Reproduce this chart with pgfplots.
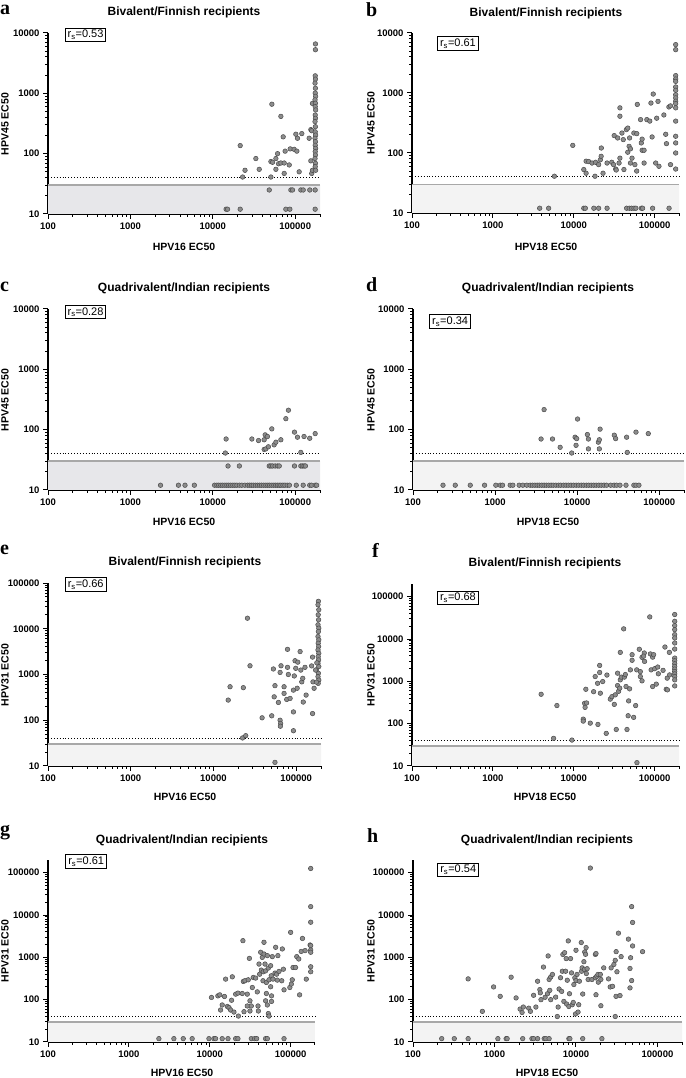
\documentclass[border=0pt]{standalone}
\usepackage{pgfplots}
\pgfplotsset{compat=1.18}
\usepackage{fontspec}
\setmainfont{Liberation Sans}
\newfontfamily\lettfont{Liberation Serif}
\definecolor{mfill}{HTML}{8C8C8C}
\definecolor{mdraw}{HTML}{4A4A4A}
\definecolor{shadeD}{HTML}{E7E7EA}
\definecolor{shadeL}{HTML}{F3F3F3}
\definecolor{limc}{HTML}{A8A8A8}
\tikzset{rsbox/.style={draw, line width=1pt, fill=white, inner xsep=2.5pt, inner ysep=2.2pt, font=\fontsize{11}{13}\selectfont}}
\pgfplotsset{every axis/.append style={
    scale only axis, xmode=log, ymode=log,
    xmin=100, xmax=200000, ymin=10,
    axis lines=left,
    axis line style={-, line width=1.2pt, black},
    tick style={black, line width=1pt},
    tick align=outside,
    major tick length=5pt, minor tick length=3pt,
    xtick={100,1000,10000,100000},
    xticklabels={100,1000,10000,100000},
    minor xtick={200,300,400,500,600,700,800,900,2000,3000,4000,5000,6000,7000,8000,9000,20000,30000,40000,50000,60000,70000,80000,90000,200000},
    ytick={10,100,1000,10000,100000},
    yticklabels={10,100,1000,10000,100000},
    minor ytick={20,30,40,50,60,70,80,90,200,300,400,500,600,700,800,900,2000,3000,4000,5000,6000,7000,8000,9000,20000,30000,40000,50000,60000,70000,80000,90000},
    tick label style={font=\fontsize{9.5}{11}\selectfont\bfseries},
    clip=false,
  }}
\newcommand{\limband}[1]{%
  \addplot[fill=#1, draw=none] coordinates {(100,10) (200000,10) (200000,30) (100,30) (100,10)};
  \addplot[limc, line width=1.5pt] coordinates {(100,30) (200000,30)};
  \addplot[black, dotted, line width=0.9pt] coordinates {(100,40) (200000,40)};
}
\newcommand{\panelletter}[3]{\node[anchor=base west, inner sep=0pt, font=\lettfont\bfseries\fontsize{20}{22}\selectfont] at (#1pt,#2pt) {#3};}
\newcommand{\ylab}[3]{\node[rotate=90, anchor=center, font=\fontsize{10.5}{12}\selectfont\bfseries] at (#1pt,#2pt) {#3};}
\newcommand{\xlab}[3]{\node[anchor=center, font=\fontsize{10.5}{12}\selectfont\bfseries] at (#1pt,#2pt) {#3};}
\newcommand{\ttl}[3]{\node[anchor=center, font=\fontsize{12}{14}\selectfont\bfseries] at (#1pt,#2pt) {#3};}
\begin{document}
\begin{tikzpicture}
\useasboundingbox (0pt,0pt) rectangle (685pt,1078pt);
%% ---------------- a
\begin{axis}[ymax=10000, at={(48pt,864pt)}, width=272pt, height=181pt]
\limband{shadeD}
\addplot[only marks, mark=*, mark size=2.3pt, mark options={fill=mfill, draw=mdraw, line width=0.5pt}] coordinates {
(21500,136) (24600,53) (23000,41) (33300,83) (36600,55) (52100,660) (67000,415) (71500,190)
(50700,74) (53100,72) (61100,100) (58300,83) (62800,68) (58300,55) (67000,70) (73500,70)
(73500,47) (75500,110) (84600,65) (87000,120) (97100,118) (104700,110) (101800,210) (106600,180)
(120300,215) (111700,50) (50700,41) (48400,25) (88600,25) (92800,25) (117000,25) (125000,25)
(150400,25) (174700,25) (77000,12) (86100,12) (14500,12) (15100,12) (21500,12) (174700,12)
(147700,180) (154800,250) (158600,240) (154800,76) (158600,47) (162000,53) (162000,680)
(176000,6580) (176000,5280) (175000,1950) (176000,1720) (174000,1475) (176000,1215) (175000,1010)
(177000,890) (174000,780) (176000,685) (175000,600) (177000,530) (175000,437) (176000,385)
(174000,340) (176000,280) (175000,230) (177000,203) (174000,180) (176000,158) (175000,138)
(177000,122) (175000,108) (176000,95) (174000,83) (176000,69) (175000,61) (177000,53)
};
\node[rsbox] at (rel axis cs:0.138,0.989) {r\textsubscript{s}=0.53};
\end{axis}
%% ---------------- b
\begin{axis}[ymax=10000, at={(412pt,865pt)}, width=267pt, height=180pt]
\limband{shadeL}
\addplot[only marks, mark=*, mark size=2.3pt, mark options={fill=mfill, draw=mdraw, line width=0.5pt}] coordinates {
(9720,134) (5760,41) (3790,12) (4890,12) (13300,12) (13900,12) (17700,12) (20300,12) (25800,12)
(45000,12) (48500,12) (51900,12) (55500,12) (58600,12) (68400,12) (71000,12) (94400,12) (150700,12)
(13300,53) (14200,46) (14200,73) (15300,72) (16800,68) (18300,41) (18600,70) (20300,64) (21300,77)
(21800,88) (21900,121) (23000,46) (25800,68) (29500,70) (31000,64) (31600,195) (34900,178)
(33000,54) (33500,52) (36300,68) (37200,82) (37200,565) (37200,410) (39400,215) (40900,167)
(41700,53) (44700,245) (46500,260) (46500,103) (48300,129) (49000,178) (50200,117) (50200,68)
(52500,82) (55300,215) (60100,210) (57000,64) (61000,645) (60000,50) (67000,360) (68400,147)
(70000,170) (70000,111) (74000,111) (74000,68) (80000,360) (87000,340) (90000,680) (93000,185)
(96000,960) (103000,68) (106000,380) (110000,725) (113000,60) (130000,430) (137000,205) (140000,143)
(150000,585) (157000,610) (157000,64)
(182000,6400) (182000,5270) (182000,1950) (182000,1710) (182000,1560) (182000,1260) (182000,1110)
(182000,935) (182000,830) (182000,730) (182000,665) (182000,565) (182000,340) (182000,190)
(182000,147) (182000,100) (182000,54)
};
\node[rsbox] at (rel axis cs:0.172,0.94) {r\textsubscript{s}=0.61};
\end{axis}
%% ---------------- c
\begin{axis}[ymax=10000, at={(48pt,588pt)}, width=272pt, height=181pt]
\limband{shadeD}
\addplot[only marks, mark=*, mark size=2.3pt, mark options={fill=mfill, draw=mdraw, line width=0.5pt}] coordinates {
(14500,70) (14200,41) (29800,70) (35900,66) (42000,68) (43200,82) (46000,77) (42000,47) (44000,48)
(47300,52) (52000,103) (55500,56) (58300,62) (67000,68) (77000,152) (82800,210) (98000,91)
(106600,75) (128000,77) (150000,72) (174700,86) (117000,42)
(15300,25) (21000,25) (48400,25) (50700,25) (53100,25) (57000,25) (61100,25) (64000,25)
(98000,25) (117000,25) (122000,25) (128000,25) (133000,25)
(2320,12) (3830,12) (4600,12) (5970,12) (10500,12) (11200,12) (11800,12) (12500,12) (13200,12)
(14000,12) (14800,12) (15600,12) (16500,12) (17500,12) (18500,12) (19600,12) (21000,12) (22500,12)
(24500,12) (26500,12) (28000,12) (29500,12) (31000,12) (33000,12) (35000,12) (37000,12) (39000,12)
(41500,12) (44000,12) (46500,12) (49000,12) (52000,12) (55000,12) (58000,12) (61000,12) (64000,12)
(67000,12) (71000,12) (75000,12) (80000,12) (85000,12) (103000,12) (125000,12) (150000,12)
(158000,12) (175000,12) (182000,12)
};
\node[rsbox] at (rel axis cs:0.138,0.983) {r\textsubscript{s}=0.28};
\end{axis}
%% ---------------- d
\begin{axis}[ymax=10000, at={(413pt,588pt)}, width=271pt, height=181pt]
\limband{shadeL}
\addplot[only marks, mark=*, mark size=2.3pt, mark options={fill=mfill, draw=mdraw, line width=0.5pt}] coordinates {
(3630,70) (3950,215) (5000,70) (6200,51) (8570,41) (9420,75) (9860,71) (9680,55) (10100,150)
(13300,83) (13700,70) (13700,48) (18100,62) (18600,68) (19000,102) (18600,48) (28300,81)
(29400,71) (40000,75) (40700,42) (52000,91) (73400,86)
(232,12) (327,12) (498,12) (744,12) (1020,12) (1155,12) (1232,12) (1527,12) (1645,12) (1965,12)
(2177,12) (2433,12) (2670,12) (2850,12) (3050,12) (3250,12) (3450,12) (3700,12) (3950,12) (4200,12)
(4500,12) (4800,12) (5100,12) (5500,12) (5900,12) (6300,12) (6800,12) (7300,12) (7800,12) (8400,12)
(9000,12) (9700,12) (10400,12) (11200,12) (12000,12) (12900,12) (13800,12) (14800,12) (15900,12)
(17000,12) (18300,12) (19600,12) (21200,12) (22800,12) (25600,12) (28100,12) (30200,12) (33200,12)
(39300,12) (49000,12) (52000,12) (56500,12)
};
\node[rsbox] at (rel axis cs:0.137,0.93) {r\textsubscript{s}=0.34};
\end{axis}
%% ---------------- e
\begin{axis}[ymax=100000, at={(48pt,312pt)}, width=273pt, height=183pt]
\limband{shadeL}
\addplot[only marks, mark=*, mark size=2.3pt, mark options={fill=mfill, draw=mdraw, line width=0.5pt}] coordinates {
(15100,276) (15900,540) (23000,515) (25800,17000) (22500,41) (24600,46) (27700,1550) (38800,113)
(50700,125) (53100,1320) (55500,570) (54300,325) (61100,245) (64000,1110) (65700,1550) (64000,100)
(65000,85) (64500,74) (71500,540) (71500,386) (77000,285) (78700,3550) (78700,1435) (80500,1000)
(84600,300) (92800,455) (92800,152) (92800,59) (95000,930) (97100,2000) (99000,1365) (104700,1860)
(103000,500) (111700,3170) (114000,1250) (117000,690) (120300,825) (122000,250) (128000,1435)
(132000,355) (154000,1540) (158000,2400) (158000,140) (160000,690) (165000,500) (55500,12)
(186000,39800) (184000,33500) (188000,26000) (185000,20200) (187000,15700) (184000,12200)
(188000,10300) (186000,8700) (184000,6760) (188000,5720) (185000,4830) (187000,4080) (184000,3440)
(188000,2910) (185000,2460) (187000,2080) (184000,1760) (188000,1490) (176000,1260) (186000,1060)
(184000,895) (188000,755) (185000,640) (178000,1800) (172000,1250) (176000,680)
};
\node[rsbox] at (rel axis cs:0.138,0.99) {r\textsubscript{s}=0.66};
\end{axis}
%% ---------------- f
\begin{axis}[ymax=200000, at={(412pt,312pt)}, width=267pt, height=182pt]
\limband{shadeL}
\addplot[only marks, mark=*, mark size=2.3pt, mark options={fill=mfill, draw=mdraw, line width=0.5pt}] coordinates {
(3950,495) (5630,45) (6190,268) (9490,41) (13100,128) (13100,115) (13600,303) (14100,650)
(13800,243) (14400,309) (16000,103) (19900,96) (17600,570) (18400,1300) (19700,900) (20900,2380)
(20900,1620) (21300,525) (22800,990) (25200,59) (25700,1410) (28300,380) (29600,435) (31700,286)
(32600,480) (33500,73) (34800,1560) (34800,795) (35800,580) (37600,4840) (37600,1085) (37000,690)
(38700,1260) (41400,17400) (42200,1260) (43400,1450) (44300,755) (45500,73) (47700,345) (47000,154)
(49000,665) (50100,1870) (52600,4270) (52600,3150) (55000,141) (58200,268) (60000,1870) (60400,12)
(64600,5740) (66500,1700) (66500,1300) (69800,3700) (69800,1030) (74400,4680) (73000,3950)
(75000,2960) (87000,33300) (88500,4450) (90500,1870) (94400,3730) (97200,4270) (94400,755)
(100000,1990) (104700,860) (109000,2180) (111000,1510) (127000,1820) (134000,6480) (139000,650)
(144000,630) (143000,1190) (152000,4840) (153000,1420)
(177000,38000) (177000,26300) (177000,20800) (177000,16700) (177000,12700) (177000,10600)
(177000,8070) (177000,5800) (177000,3550) (177000,3070) (177000,2600) (177000,2250) (177000,1950)
(177000,1710) (177000,1500) (177000,1300) (177000,1085) (177000,780)
};
\node[rsbox] at (rel axis cs:0.172,0.923) {r\textsubscript{s}=0.68};
\end{axis}
%% ---------------- g
\begin{axis}[ymax=200000, at={(48pt,36pt)}, width=267pt, height=182pt]
\limband{shadeL}
\addplot[only marks, mark=*, mark size=2.3pt, mark options={fill=mfill, draw=mdraw, line width=0.5pt}] coordinates {
(2350,12) (3600,12) (4700,12) (6060,12) (9770,12) (11250,12) (11800,12) (14250,12) (16800,12)
(20900,12) (22300,12) (32600,12) (35900,12) (38000,12) (49000,12) (51500,12) (82800,12)
(10500,113) (12600,123) (13300,130) (13600,57) (14250,75) (15200,119) (15700,306) (16500,69)
(17300,65) (18100,57) (18600,97) (19000,347) (19900,51) (20900,135) (22300,143) (22600,41)
(25200,140) (25700,2480) (26000,270) (27200,281) (26500,52) (29100,71) (29100,135) (29900,295)
(30900,946) (31400,94) (31400,54) (32600,71) (33600,194) (34500,335) (36900,324) (38700,153)
(39500,71) (39900,54) (40600,695) (41400,400) (42600,1320) (43400,500) (44600,1000) (45500,280)
(45900,457) (46800,2270) (46800,1200) (48200,695) (49000,94) (50100,140) (49000,480) (50100,255)
(51500,1100) (51500,75) (53000,560) (53000,47) (54000,41) (54000,295) (56600,635) (56600,202)
(57600,367) (58000,123) (58000,91) (59300,1040) (60500,306) (64000,425) (65300,1730) (67000,400)
(68400,290) (69500,1100) (71800,465) (78900,1580) (77600,280) (82800,171) (81300,525) (97700,194)
(100000,3900) (102000,234) (104700,295) (107000,576) (115000,576) (119000,1040) (126000,915)
(129000,130) (135000,1380) (140000,2800) (151000,1445) (156000,306) (174000,1960)
(177000,126000) (177000,15800) (177000,6770) (177000,1890) (177000,1490) (177000,1320)
(177000,600) (177000,457)
};
\node[rsbox] at (rel axis cs:0.143,0.99) {r\textsubscript{s}=0.61};
\end{axis}
%% ---------------- h
\begin{axis}[ymax=200000, at={(413pt,36pt)}, width=269pt, height=182pt]
\limband{shadeL}
\addplot[only marks, mark=*, mark size=2.3pt, mark options={fill=mfill, draw=mdraw, line width=0.5pt}] coordinates {
(225,12) (321,12) (475,12) (1100,12) (1390,12) (1430,12) (2220,12) (2880,12) (3020,12) (3380,12)
(4070,12) (4260,12) (4680,12) (8180,12) (8420,12) (12100,12) (20800,12)
(475,310) (710,53) (975,200) (1175,120) (1600,340) (1840,110) (2060,60) (2180,50) (2260,67)
(2630,63) (2760,53) (3020,127) (3220,67) (3380,273) (3600,173) (3650,145) (3720,100) (3990,590)
(4180,114) (4470,138) (4550,1080) (4680,300) (4770,166) (4900,100) (4900,345) (5140,395)
(5630,115) (5900,40) (6040,67) (6200,179) (6460,330) (6670,157) (6800,470) (6900,1170) (7100,91)
(7250,1290) (7460,470) (7580,935) (7680,79) (7820,288) (8040,2450) (8180,69) (8320,138) (8570,935)
(8810,430) (9000,76) (9250,86) (9420,228) (9680,330) (9860,46) (10000,1470) (10000,283) (10300,395)
(10600,51) (10800,76) (11000,273) (11600,2240) (11700,470) (11900,565) (12100,136) (12500,790)
(12700,520) (12800,1340) (13100,1180) (13300,1700) (13400,415) (13700,540) (14100,300)
(15000,129000) (15700,300) (17300,1175) (17600,1230) (17300,330) (17600,131) (18000,360)
(18600,395) (18800,259) (19900,395) (20200,300) (20200,72) (21900,565) (25100,310) (26300,200)
(27000,565) (28100,207) (29200,680) (30300,850) (30300,40) (31000,120) (31100,1365) (31800,457)
(33200,3730) (34700,125) (35800,1040) (44000,2700) (46000,547) (46800,980) (48200,15800)
(46000,190) (48200,283) (49500,6680) (49500,1860) (65600,1365)
};
\node[rsbox] at (rel axis cs:0.168,0.945) {r\textsubscript{s}=0.54};
\end{axis}
%% titles, axis labels, panel letters
\ttl{184}{1066}{Bivalent/Finnish recipients}
\ttl{546}{1065}{Bivalent/Finnish recipients}
\ttl{184}{790}{Quadrivalent/Indian recipients}
\ttl{548}{790}{Quadrivalent/Indian recipients}
\ttl{185}{516}{Bivalent/Finnish recipients}
\ttl{545}{515}{Bivalent/Finnish recipients}
\ttl{182}{238}{Quadrivalent/Indian recipients}
\ttl{547}{238}{Quadrivalent/Indian recipients}
\xlab{184}{831}{HPV16 EC50}
\xlab{546}{831}{HPV18 EC50}
\xlab{184}{556}{HPV16 EC50}
\xlab{548}{556}{HPV18 EC50}
\xlab{185}{281}{HPV16 EC50}
\xlab{545}{281}{HPV18 EC50}
\xlab{182}{5}{HPV16 EC50}
\xlab{547}{5}{HPV18 EC50}
\ylab{5}{954}{HPV45 EC50}
\ylab{371}{955}{HPV45 EC50}
\ylab{5}{678}{HPV45 EC50}
\ylab{371}{678}{HPV45 EC50}
\ylab{5}{403}{HPV31 EC50}
\ylab{371}{403}{HPV31 EC50}
\ylab{5}{127}{HPV31 EC50}
\ylab{371}{127}{HPV31 EC50}
\panelletter{0}{1063}{a}
\panelletter{366}{1061}{b}
\panelletter{0}{786}{c}
\panelletter{366}{786}{d}
\panelletter{0}{523}{e}
\panelletter{372}{520}{f}
\panelletter{0}{242}{g}
\panelletter{367}{235}{h}
\end{tikzpicture}
\end{document}
